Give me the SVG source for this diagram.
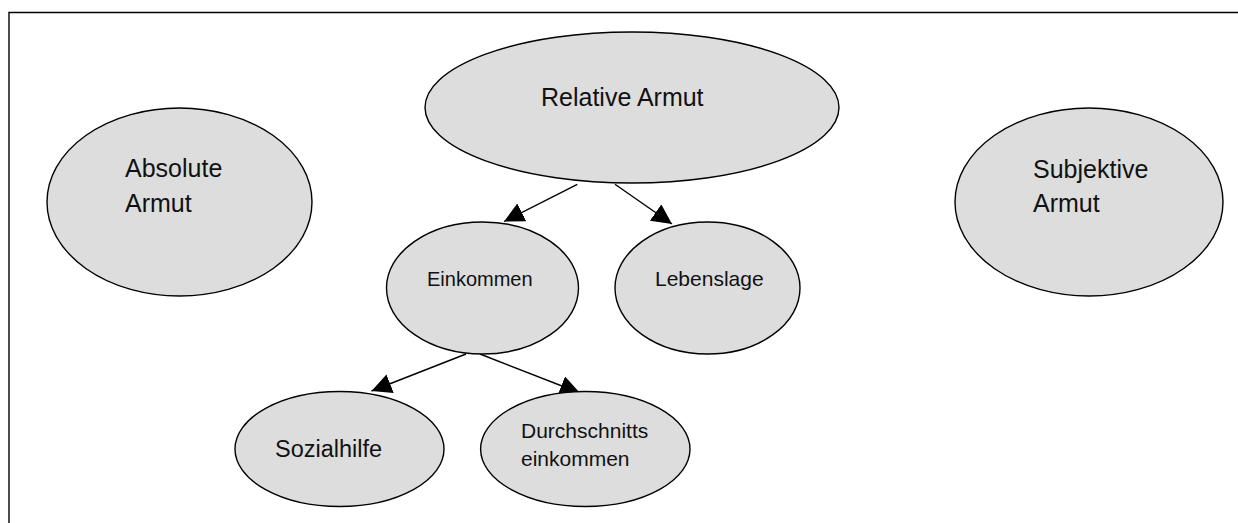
<svg xmlns="http://www.w3.org/2000/svg" width="1238" height="523" viewBox="0 0 1238 523">
<style>
.node ellipse{fill:#dddddd;stroke:#000;stroke-width:1.4}
.node text{font-family:"Liberation Sans",Arial,sans-serif;fill:#111}
.big{font-size:25px}
.conn line{stroke:#000;stroke-width:1.4;marker-end:url(#ah)}
.frame{fill:none;stroke:#000;stroke-width:1.4}
</style>
<defs>
<marker id="ah" markerUnits="userSpaceOnUse" markerWidth="22" markerHeight="22" refX="20" refY="10" orient="auto" viewBox="0 0 22 22">
<path d="M0,0 L20,10 L0,20 z" fill="#000"/>
</marker>
</defs>
<rect width="1238" height="523" fill="#fff"/>
<path class="frame" d="M9,523 V12.5 H1238"/>
<g id="connectors" class="conn">
<line x1="577.3" y1="184.3" x2="504" y2="221.5"/>
<line x1="615" y1="184.3" x2="672" y2="224"/>
<line x1="466" y1="354" x2="371.5" y2="391"/>
<line x1="480" y1="354" x2="580" y2="393"/>
</g>
<g id="absolute" class="node">
<ellipse cx="179.5" cy="202" rx="132.5" ry="94"/>
<text class="big" x="125" y="177">Absolute</text>
<text class="big" x="125" y="212">Armut</text>
</g>
<g id="relative" class="node">
<ellipse cx="632" cy="107.5" rx="207" ry="75.5"/>
<text class="big" x="541" y="106">Relative Armut</text>
</g>
<g id="subjektive" class="node">
<ellipse cx="1089" cy="202" rx="134" ry="94"/>
<text class="big" x="1033" y="178">Subjektive</text>
<text class="big" x="1033" y="212">Armut</text>
</g>
<g id="einkommen" class="node">
<ellipse cx="482.5" cy="288" rx="96" ry="66"/>
<text x="427" y="286" font-size="20">Einkommen</text>
</g>
<g id="lebenslage" class="node">
<ellipse cx="707.5" cy="288" rx="92.5" ry="66"/>
<text x="655" y="286" font-size="21">Lebenslage</text>
</g>
<g id="sozialhilfe" class="node">
<ellipse cx="339.5" cy="449" rx="104.5" ry="57.5"/>
<text x="275" y="457" font-size="23.5">Sozialhilfe</text>
</g>
<g id="durchschnitt" class="node">
<ellipse cx="585.3" cy="449" rx="104.7" ry="57.5"/>
<text x="521" y="438" font-size="21">Durchschnitts</text>
<text x="521" y="466" font-size="21">einkommen</text>
</g>
</svg>
